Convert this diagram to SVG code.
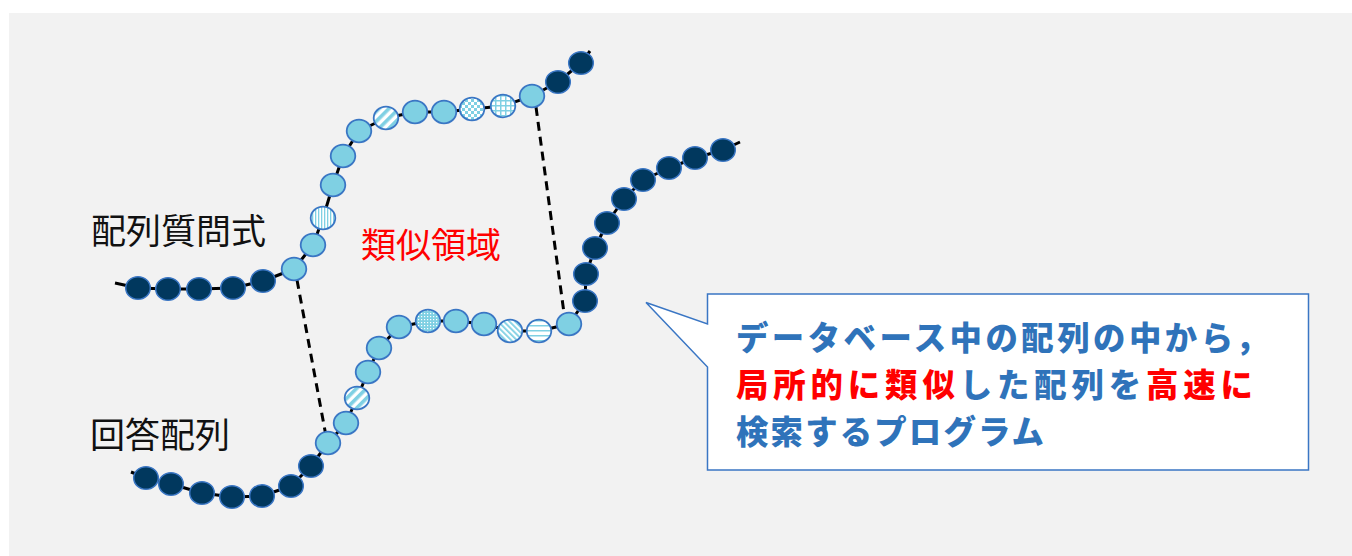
<svg xmlns="http://www.w3.org/2000/svg" width="1352" height="556" viewBox="0 0 1352 556">
<style>
.chain{fill:none;stroke:#000;stroke-width:3;stroke-linejoin:round}
.dash{fill:none;stroke:#000;stroke-width:3;stroke-dasharray:9 6}
.lt{fill:#7FD0E3;stroke:#3A76C4;stroke-width:1.8}
.dk{fill:#01385E;stroke:#3A76C4;stroke-width:1.5}
.pt{stroke:#3A76C4;stroke-width:1.8}
.lbl{font-family:"Noto Sans CJK JP","Noto Sans",sans-serif;font-size:35px;fill:#111}
.red{font-family:"Noto Sans CJK JP","Noto Sans",sans-serif;font-size:35px;fill:#FF0000}
.co{font-family:"Noto Sans CJK JP","Noto Sans",sans-serif;font-size:32.4px;font-weight:900;fill:#2F73BA}
.r{fill:#FF0000}
</style>
<defs>
<pattern id="pV" patternUnits="userSpaceOnUse" width="3" height="3"><rect width="3" height="3" fill="#fff"/><rect width="1.3" height="3" fill="#7FD0E3"/></pattern>
<pattern id="pH" patternUnits="userSpaceOnUse" width="5" height="5"><rect width="5" height="5" fill="#fff"/><rect width="5" height="1.5" fill="#7FD0E3"/></pattern>
<pattern id="pWD" patternUnits="userSpaceOnUse" width="7" height="7" patternTransform="rotate(45)"><rect width="7" height="7" fill="#fff"/><rect width="3.6" height="7" fill="#7FD0E3"/></pattern>
<pattern id="pND" patternUnits="userSpaceOnUse" width="4" height="4" patternTransform="rotate(-45)"><rect width="4" height="4" fill="#fff"/><rect width="1.8" height="4" fill="#7FD0E3"/></pattern>
<pattern id="pCk" patternUnits="userSpaceOnUse" width="6" height="6"><rect width="6" height="6" fill="#fff"/><rect width="3" height="3" fill="#7FD0E3"/><rect x="3" y="3" width="3" height="3" fill="#7FD0E3"/></pattern>
<pattern id="pGr" patternUnits="userSpaceOnUse" width="5" height="5"><rect width="5" height="5" fill="#fff"/><rect width="1.5" height="5" fill="#7FD0E3"/><rect width="5" height="1.5" fill="#7FD0E3"/></pattern>
<pattern id="pDt" patternUnits="userSpaceOnUse" width="3" height="3"><rect width="3" height="3" fill="#7FD0E3"/><rect x="1" y="1" width="1.2" height="1.2" fill="#fff"/></pattern>
</defs>
<rect width="1352" height="556" fill="#fff"/>
<rect x="9" y="13" width="1343" height="543" fill="#F2F2F2"/>

<g id="connectors">
<polyline class="chain" points="115,283 138,288 168,289 199,289 233,288 263,281 294,269 313,245 323,218 333,185 343,156 359,131 386,118 415,112 444,112 472,109 503,106 532,96 558,82 581,63 590,51"/>
<polyline class="chain" points="131,472 146,478 171,484 202,493 232,497 262,496 291,486 311,466 328,443 346,423 357,398 368,372 379,348 399,327 428,321 456,321 484,324 510,331 539,331 569,324 585,301 586,274 595,248 607,223 624,199 643,180 669,168 695,158 723,150 740,142"/>
<line class="dash" x1="297" y1="280" x2="326" y2="436"/>
<line class="dash" x1="536" y1="107" x2="564" y2="313"/>
</g>

<g id="query-sequence">
<ellipse class="dk" cx="138" cy="288" rx="12.3" ry="11.3"/>
<ellipse class="dk" cx="168" cy="289" rx="12.3" ry="11.3"/>
<ellipse class="dk" cx="199" cy="289" rx="12.3" ry="11.3"/>
<ellipse class="dk" cx="233" cy="288" rx="12.3" ry="11.3"/>
<ellipse class="dk" cx="263" cy="281" rx="12.3" ry="11.3"/>
<ellipse class="lt" cx="294" cy="269" rx="12.3" ry="11.3"/>
<ellipse class="lt" cx="313" cy="245" rx="12.3" ry="11.3"/>
<ellipse class="pt" fill="url(#pV)" cx="323" cy="218" rx="12.3" ry="11.3"/>
<ellipse class="lt" cx="333" cy="185" rx="12.3" ry="11.3"/>
<ellipse class="lt" cx="343" cy="156" rx="12.3" ry="11.3"/>
<ellipse class="lt" cx="359" cy="131" rx="12.3" ry="11.3"/>
<ellipse class="pt" fill="url(#pWD)" cx="386" cy="118" rx="12.3" ry="11.3"/>
<ellipse class="lt" cx="415" cy="112" rx="12.3" ry="11.3"/>
<ellipse class="lt" cx="444" cy="112" rx="12.3" ry="11.3"/>
<ellipse class="pt" fill="url(#pCk)" cx="472" cy="109" rx="12.3" ry="11.3"/>
<ellipse class="pt" fill="url(#pGr)" cx="503" cy="106" rx="12.3" ry="11.3"/>
<ellipse class="lt" cx="532" cy="96" rx="12.3" ry="11.3"/>
<ellipse class="dk" cx="558" cy="82" rx="12.3" ry="11.3"/>
<ellipse class="dk" cx="581" cy="63" rx="12.3" ry="11.3"/>
</g>

<g id="answer-sequence">
<ellipse class="dk" cx="146" cy="478" rx="12.3" ry="11.3"/>
<ellipse class="dk" cx="171" cy="484" rx="12.3" ry="11.3"/>
<ellipse class="dk" cx="202" cy="493" rx="12.3" ry="11.3"/>
<ellipse class="dk" cx="232" cy="497" rx="12.3" ry="11.3"/>
<ellipse class="dk" cx="262" cy="496" rx="12.3" ry="11.3"/>
<ellipse class="dk" cx="291" cy="486" rx="12.3" ry="11.3"/>
<ellipse class="dk" cx="311" cy="466" rx="12.3" ry="11.3"/>
<ellipse class="lt" cx="328" cy="443" rx="12.3" ry="11.3"/>
<ellipse class="lt" cx="346" cy="423" rx="12.3" ry="11.3"/>
<ellipse class="pt" fill="url(#pWD)" cx="357" cy="398" rx="12.3" ry="11.3"/>
<ellipse class="lt" cx="368" cy="372" rx="12.3" ry="11.3"/>
<ellipse class="lt" cx="379" cy="348" rx="12.3" ry="11.3"/>
<ellipse class="lt" cx="399" cy="327" rx="12.3" ry="11.3"/>
<ellipse class="pt" fill="url(#pDt)" cx="428" cy="321" rx="12.3" ry="11.3"/>
<ellipse class="lt" cx="456" cy="321" rx="12.3" ry="11.3"/>
<ellipse class="lt" cx="484" cy="324" rx="12.3" ry="11.3"/>
<ellipse class="pt" fill="url(#pND)" cx="510" cy="331" rx="12.3" ry="11.3"/>
<ellipse class="pt" fill="url(#pH)" cx="539" cy="331" rx="12.3" ry="11.3"/>
<ellipse class="lt" cx="569" cy="324" rx="12.3" ry="11.3"/>
<ellipse class="dk" cx="585" cy="301" rx="12.3" ry="11.3"/>
<ellipse class="dk" cx="586" cy="274" rx="12.3" ry="11.3"/>
<ellipse class="dk" cx="595" cy="248" rx="12.3" ry="11.3"/>
<ellipse class="dk" cx="607" cy="223" rx="12.3" ry="11.3"/>
<ellipse class="dk" cx="624" cy="199" rx="12.3" ry="11.3"/>
<ellipse class="dk" cx="643" cy="180" rx="12.3" ry="11.3"/>
<ellipse class="dk" cx="669" cy="168" rx="12.3" ry="11.3"/>
<ellipse class="dk" cx="695" cy="158" rx="12.3" ry="11.3"/>
<ellipse class="dk" cx="723" cy="150" rx="12.3" ry="11.3"/>
</g>

<g id="labels">
<text class="lbl" x="91" y="244">配列質問式</text>
<text class="lbl" x="90" y="448">回答配列</text>
<text class="red" x="361" y="258">類似領域</text>
</g>

<g id="callout">
<path d="M707.5,294 H1308.5 V470 H707.5 V367 L646,302.5 L707.5,324 Z" fill="#fff" stroke="#3A76C4" stroke-width="1.5"/>
<text class="co" x="736" y="350" textLength="532" lengthAdjust="spacing">データベース中の配列の中から，</text>
<text class="co" x="736" y="397" textLength="517" lengthAdjust="spacing"><tspan class="r">局所的に類似</tspan>した配列を<tspan class="r">高速に</tspan></text>
<text class="co" x="736" y="444" textLength="308" lengthAdjust="spacing">検索するプログラム</text>
</g>
</svg>
